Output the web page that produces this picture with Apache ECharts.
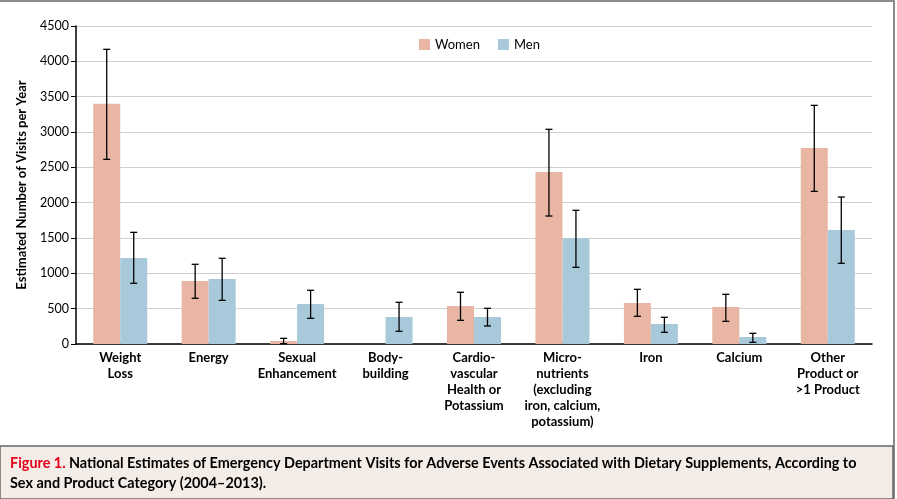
<!DOCTYPE html>
<html><head><meta charset="utf-8">
<script src="https://cdn.jsdelivr.net/npm/echarts@6/dist/echarts.min.js"></script>
<style>html,body{margin:0;padding:0;background:#fff}#c{width:897px;height:499px}</style>
</head><body><div id="c"></div>
<script>
const categories = ['Weight\nLoss','Energy','Sexual\nEnhancement','Body-\nbuilding','Cardio-\nvascular\nHealth or\nPotassium','Micro-\nnutrients\n(excluding\niron, calcium,\npotassium)','Iron','Calcium','Other\nProduct or\n>1 Product'];
const womenValues = [3400, 890, 42, 0, 538, 2434, 580, 524, 2773];
const womenLow    = [2613, 647, 5, null, 335, 1811, 392, 321, 2160];
const womenHigh   = [4170, 1128, 80, null, 732, 3038, 774, 703, 3377];
const menValues   = [1217, 920, 566, 382, 382, 1495, 283, 99, 1613];
const menLow      = [859, 618, 363, 180, 255, 1085, 165, 24, 1142];
const menHigh     = [1580, 1213, 760, 590, 505, 1892, 378, 151, 2080];
const yTicks = {min: 0, max: 4500, interval: 500};

const F = 'Lato, "Open Sans", sans-serif';
const chart = echarts.init(document.getElementById('c'), null, {renderer: 'canvas'});

const errData = [];
womenValues.forEach((v, i) => { if (womenLow[i] != null) errData.push([i, womenLow[i], womenHigh[i], 0]); });
menValues.forEach((v, i) => { if (menLow[i] != null) errData.push([i, menLow[i], menHigh[i], 1]); });

const BW = 27;
chart.setOption({
  animation: false,
  textStyle: {fontFamily: F},
  graphic: [
    {type: 'rect', shape: {x: -2, y: 1, width: 896, height: 500}, style: {fill: 'none', stroke: '#666', lineWidth: 1.5}, z: 0},
    {type: 'rect', shape: {x: 0, y: 446, width: 893, height: 53}, style: {fill: '#f4ece6', stroke: '#666', lineWidth: 1.5}, z: 0},
    {type: 'text', left: 10, top: 456, z: 10, style: {
      text: '{r|Figure 1.} {b|National Estimates of Emergency Department Visits for Adverse Events Associated with Dietary Supplements, According to}\n{b|Sex and Product Category (2004\u20132013).}',
      rich: {
        r: {fill: '#e3001b', fontSize: 14.4, fontWeight: 'bold', fontFamily: F, lineHeight: 20},
        b: {fill: '#000', fontSize: 14.4, fontWeight: 'bold', fontFamily: F, lineHeight: 20}
      }
    }}
  ],
  legend: {
    data: ['Women', 'Men'], left: 414, top: 33, itemWidth: 11, itemHeight: 11, itemGap: 18,
    textStyle: {fontSize: 13, color: '#000', fontFamily: F}, icon: 'rect'
  },
  grid: {left: 76, right: 25, top: 26, bottom: 155, containLabel: false},
  xAxis: {
    type: 'category', data: categories,
    axisLine: {lineStyle: {color: '#000', width: 1.5}},
    axisTick: {show: false},
    axisLabel: {interval: 0, color: '#000', fontSize: 13, fontWeight: 'bold', lineHeight: 16, margin: 6, fontFamily: F}
  },
  yAxis: {
    type: 'value', min: yTicks.min, max: yTicks.max, interval: yTicks.interval,
    name: 'Estimated Number of Visits per Year', nameLocation: 'middle', nameGap: 48,
    nameTextStyle: {fontSize: 13, fontWeight: 'bold', color: '#000', fontFamily: F},
    axisLine: {show: true, lineStyle: {color: '#000', width: 1.5}},
    axisTick: {show: true, length: 5, lineStyle: {color: '#000'}},
    axisLabel: {color: '#000', fontSize: 12.5, margin: 7, fontFamily: F, formatter: v => String(v)},
    splitLine: {lineStyle: {color: '#d0d0d0', width: 1}}
  },
  series: [
    {name: 'Women', type: 'bar', data: womenValues, barWidth: BW, barGap: '0%', itemStyle: {color: '#e8b6a3'}},
    {name: 'Men', type: 'bar', data: menValues, barWidth: BW, barGap: '0%', itemStyle: {color: '#a7c9d9'}},
    {
      type: 'custom', data: errData, z: 10, silent: true,
      encode: {x: 0, y: [1, 2]},
      renderItem: function (params, api) {
        const i = api.value(0), lo = api.value(1), hi = api.value(2), s = api.value(3);
        const c = api.coord([i, 0]);
        const x = c[0] + (s === 0 ? -BW / 2 : BW / 2);
        const yl = api.coord([i, lo])[1], yh = api.coord([i, hi])[1];
        const cap = 3.5;
        const st = {stroke: '#000', lineWidth: 1.3};
        return {type: 'group', children: [
          {type: 'line', shape: {x1: x, y1: yl, x2: x, y2: yh}, style: st},
          {type: 'line', shape: {x1: x - cap, y1: yl, x2: x + cap, y2: yl}, style: st},
          {type: 'line', shape: {x1: x - cap, y1: yh, x2: x + cap, y2: yh}, style: st}
        ]};
      }
    }
  ]
});
</script></body></html>
